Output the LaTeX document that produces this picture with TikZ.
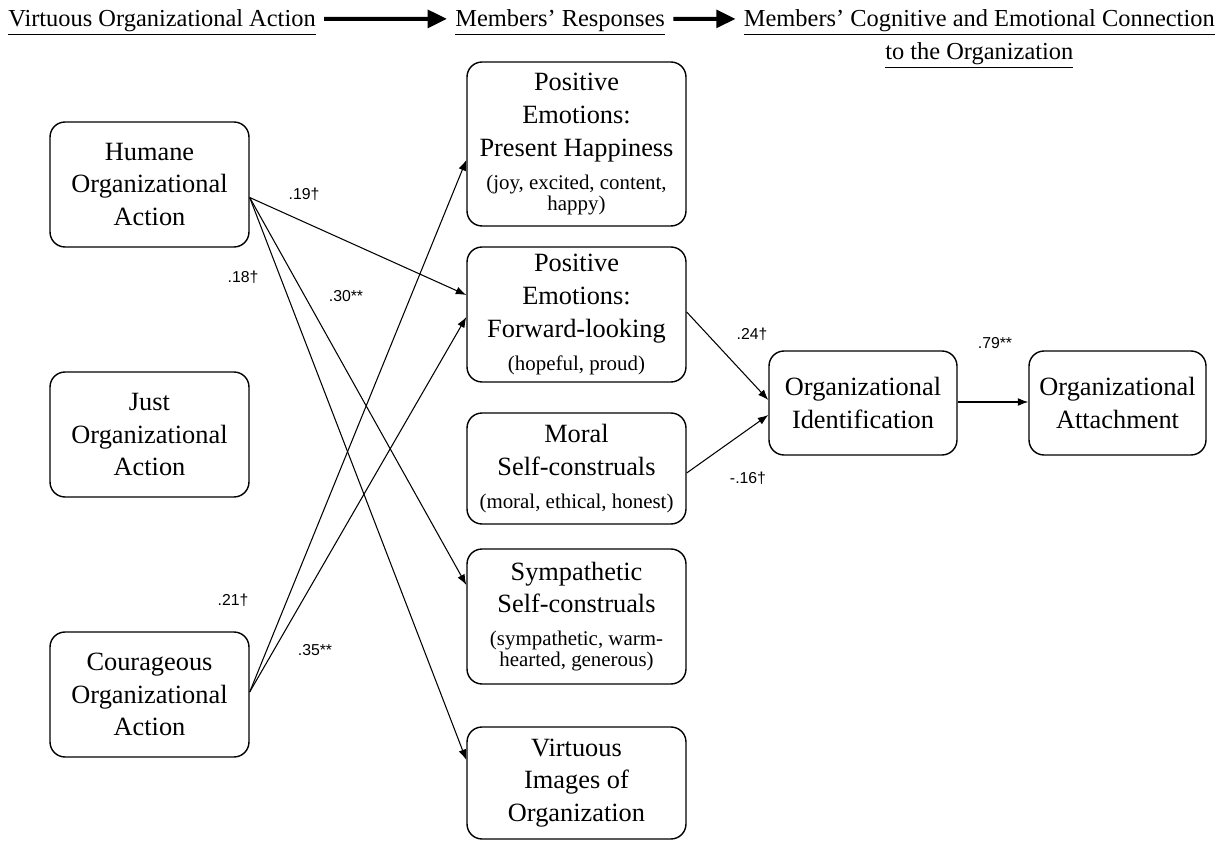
\documentclass[tikz,border=0pt]{standalone}
\usepackage{fontspec}
\setmainfont{Liberation Serif}
\newfontfamily\labfont{Liberation Sans}
\usetikzlibrary{arrows.meta,calc}
\newcommand\smtxt[1]{{\fontsize{11.9}{12}\selectfont #1}}
\begin{document}
\begin{tikzpicture}[x=0.02cm,y=-0.02cm,
  box/.style={draw, line width=0.8pt, rounded corners=0.3cm, align=center, inner sep=0pt,
    font=\fontsize{15}{18.7}\selectfont},
  con/.style={-{Latex[length=6pt,width=4.5pt]}, line width=0.6pt},
  coef/.style={font=\labfont\fontsize{9}{10}\selectfont, inner sep=0pt},
  head/.style={font=\fontsize{13.9}{16}\selectfont, inner sep=0pt},
  harrow/.style={line width=2.3pt, -{Triangle[length=11pt,width=10pt]}}]
\useasboundingbox (0,0) rectangle (1225,841);

% header
\node[head, anchor=base west] (h1) at (8,27) {\underline{Virtuous Organizational Action}};
\node[head, anchor=base west] (h2) at (455,27) {\underline{Members’ Responses}};
\node[head, anchor=base east] (h3) at (1215,27) {\underline{Members’ Cognitive and Emotional Connection}};
\node[head, anchor=base] (h4) at ($(h3.base)+(0,33)$) {\underline{to the Organization}};
\draw[harrow] ($(h1.east)+(8,-4)$) -- ($(h2.west)+(-8,-4)$);
\draw[harrow] ($(h2.east)+(8,-4)$) -- ($(h3.west)+(-8,-4)$);

% left column
\node[box, minimum width=3.98cm, minimum height=2.5cm] (hum) at (149.5,184.5) {Humane\\Organizational\\Action};
\node[box, minimum width=3.98cm, minimum height=2.5cm] (just) at (149.5,434.5) {Just\\Organizational\\Action};
\node[box, minimum width=3.98cm, minimum height=2.5cm] (cour) at (149.5,694.5) {Courageous\\Organizational\\Action};

% middle column
\node[box, minimum width=4.38cm, minimum height=3.28cm] (pep) at (576.5,144) {Positive\\Emotions:\\Present Happiness\\\smtxt{(joy, excited, content,}\\[-6.8pt]\smtxt{happy)}};
\node[box, minimum width=4.38cm, minimum height=2.7cm] (pef) at (576.5,314.5) {Positive\\Emotions:\\Forward-looking\\\smtxt{(hopeful, proud)}};
\node[box, minimum width=4.38cm, minimum height=2.22cm] (mor) at (576.5,468.5) {Moral\\Self-construals\\\smtxt{(moral, ethical, honest)}};
\node[box, minimum width=4.38cm, minimum height=2.7cm] (sym) at (576.5,616.5) {Sympathetic\\Self-construals\\\smtxt{(sympathetic, warm-}\\[-6.8pt]\smtxt{hearted, generous)}};
\node[box, minimum width=4.38cm, minimum height=2.24cm] (vir) at (576.5,783) {Virtuous\\Images of\\Organization};

% right column
\node[box, minimum width=3.76cm, minimum height=2.08cm] (ide) at (863,403) {Organizational\\Identification};
\node[box, minimum width=3.54cm, minimum height=2.08cm] (att) at (1117.5,403) {Organizational\\Attachment};

% connectors
\draw[con] ($(hum.east)+(0,13)$) -- ($(pef.west)+(0,-19.5)$);
\draw[con] ($(hum.east)+(0,13)$) -- ($(sym.west)+(0,-31.5)$);
\draw[con] ($(hum.east)+(0,13)$) -- ($(vir.west)+(0,-23)$);
\draw[con] ($(cour.east)+(0,-2.5)$) -- ($(pep.west)+(0,16)$);
\draw[con] ($(cour.east)+(0,-2.5)$) -- ($(pef.west)+(0,2.5)$);
\draw[con] ($(pef.east)+(0,-2.5)$) -- ($(ide.west)+(0,-3)$);
\draw[con] ($(mor.east)+(0,4.5)$) -- ($(ide.west)+(0,12)$);
\draw[con] ($(ide.east)+(0,-1)$) -- ($(att.west)+(0,-1)$);

% coefficients
\node[coef] (c19) at (304,194) {.19†};
\node[coef] (c18) at (243,277) {.18†};
\node[coef] (c30) at (346,296) {.30**};
\node[coef] (c21) at (233,600) {.21†};
\node[coef] (c35) at (315,650) {.35**};
\node[coef] (c24) at (752,334) {.24†};
\node[coef] (c16) at (748,478) {-.16†};
\node[coef] (c79) at (995,343) {.79**};
\end{tikzpicture}
\end{document}
